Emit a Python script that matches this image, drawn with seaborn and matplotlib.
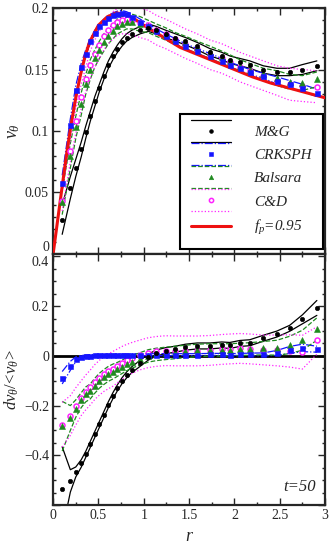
import matplotlib
matplotlib.use("Agg")
import matplotlib.pyplot as plt
import numpy as np
import pandas as pd
import seaborn as sns
from matplotlib.legend_handler import HandlerBase
from matplotlib.lines import Line2D
from matplotlib.ticker import MultipleLocator, FuncFormatter

# radial bins
r = [0.10, 0.19, 0.25, 0.31, 0.36, 0.41, 0.46, 0.51, 0.56, 0.61, 0.66, 0.71, 0.76, 0.81, 0.87, 0.96,
     1.05, 1.14, 1.24, 1.35, 1.46, 1.59, 1.73, 1.86, 1.95, 2.06, 2.17, 2.32, 2.47, 2.61, 2.75, 2.91]

# analytic curve f_p=0.95
r_fp = [0.0, 0.1, 0.15, 0.2, 0.25, 0.3, 0.35, 0.4, 0.5, 0.6, 0.7, 0.8, 0.9, 1.0, 1.2, 1.4, 1.6,
        1.8, 2.0, 2.2, 2.4, 2.6, 2.8, 3.0]
v_fp = [0.0, 0.055, 0.082, 0.106, 0.127, 0.145, 0.160, 0.172, 0.186, 0.193, 0.196, 0.195, 0.191,
        0.186, 0.177, 0.168, 0.162, 0.156, 0.150, 0.144, 0.139, 0.135, 0.131, 0.127]

# v_theta (top panel)
v_mg = [0.028, 0.054, 0.070, 0.085, 0.099, 0.112, 0.124, 0.135, 0.145, 0.154, 0.161, 0.167, 0.172,
        0.176, 0.179, 0.182, 0.184, 0.182, 0.179, 0.176, 0.173, 0.169, 0.164, 0.161, 0.158, 0.156,
        0.154, 0.150, 0.148, 0.148, 0.150, 0.153]
v_mg_sd = [0.012, 0.009, 0.007, 0.006, 0.005, 0.004, 0.004, 0.003, 0.003, 0.003, 0.003, 0.003, 0.003,
           0.003, 0.003, 0.003, 0.003, 0.003, 0.003, 0.003, 0.003, 0.003, 0.003, 0.003, 0.003, 0.003,
           0.003, 0.003, 0.003, 0.003, 0.004, 0.004]
v_crk = [0.058, 0.105, 0.133, 0.152, 0.163, 0.173, 0.180, 0.185, 0.189, 0.192, 0.194, 0.1955, 0.196,
         0.195, 0.193, 0.189, 0.185, 0.181, 0.177, 0.173, 0.169, 0.165, 0.161, 0.157, 0.154, 0.151,
         0.148, 0.145, 0.141, 0.138, 0.135, 0.131]
v_crk_sd = [0.006, 0.005, 0.004, 0.003, 0.003, 0.002, 0.002, 0.002, 0.002, 0.002, 0.002, 0.002, 0.002,
            0.002, 0.002, 0.002, 0.002, 0.002, 0.002, 0.002, 0.002, 0.002, 0.002, 0.002, 0.002, 0.002,
            0.002, 0.002, 0.003, 0.003, 0.003, 0.003]
v_bal = [0.042, 0.080, 0.103, 0.122, 0.138, 0.150, 0.159, 0.166, 0.172, 0.177, 0.181, 0.185, 0.187,
         0.189, 0.189, 0.187, 0.185, 0.182, 0.179, 0.175, 0.172, 0.168, 0.164, 0.160, 0.157, 0.153,
         0.150, 0.146, 0.143, 0.140, 0.139, 0.142]
v_bal_sd = [0.010, 0.010, 0.009, 0.009, 0.008, 0.008, 0.007, 0.007, 0.007, 0.006, 0.006, 0.006, 0.006,
            0.006, 0.006, 0.006, 0.005, 0.005, 0.005, 0.005, 0.005, 0.005, 0.005, 0.005, 0.005, 0.005,
            0.005, 0.005, 0.006, 0.006, 0.006, 0.006]
v_cd = [0.043, 0.084, 0.108, 0.128, 0.142, 0.154, 0.163, 0.170, 0.177, 0.182, 0.186, 0.189, 0.190,
        0.191, 0.190, 0.188, 0.186, 0.182, 0.179, 0.175, 0.171, 0.167, 0.162, 0.159, 0.156, 0.152,
        0.149, 0.145, 0.141, 0.138, 0.137, 0.136]
v_cd_sd = [0.008, 0.009, 0.010, 0.010, 0.010, 0.011, 0.011, 0.011, 0.011, 0.011, 0.011, 0.011, 0.011,
           0.012, 0.012, 0.012, 0.012, 0.012, 0.012, 0.012, 0.012, 0.012, 0.012, 0.012, 0.012, 0.012,
           0.012, 0.012, 0.012, 0.013, 0.013, 0.013]

# d v_theta / <v_theta> (bottom panel)
d_mg = [-0.536, -0.503, -0.467, -0.433, -0.396, -0.356, -0.316, -0.276, -0.236, -0.196, -0.160, -0.128,
        -0.100, -0.077, -0.055, -0.030, -0.005, 0.012, 0.021, 0.027, 0.035, 0.040, 0.040, 0.044, 0.042,
        0.050, 0.053, 0.071, 0.088, 0.111, 0.147, 0.193]
d_mg_sd = [0.17, 0.045, 0.02, 0.015, 0.012, 0.012, 0.012, 0.012, 0.012, 0.012, 0.012, 0.012, 0.012,
           0.012, 0.012, 0.012, 0.012, 0.012, 0.012, 0.012, 0.012, 0.012, 0.012, 0.012, 0.012, 0.012,
           0.012, 0.012, 0.012, 0.012, 0.018, 0.030]
d_crk = [-0.088, -0.040, -0.014, -0.005, -0.001, 0.001, 0.002, 0.002, 0.003, 0.003, 0.003, 0.004, 0.004,
         0.004, 0.004, 0.005, 0.005, 0.005, 0.005, 0.005, 0.005, 0.005, 0.006, 0.006, 0.005, 0.006,
         0.006, 0.006, 0.012, 0.024, 0.032, 0.027]
d_crk_sd = [0.025, 0.018, 0.01, 0.006, 0.005, 0.004, 0.004, 0.004, 0.004, 0.004, 0.004, 0.004, 0.004,
            0.004, 0.004, 0.004, 0.004, 0.004, 0.004, 0.004, 0.004, 0.004, 0.004, 0.004, 0.004, 0.004,
            0.005, 0.006, 0.010, 0.014, 0.015, 0.012]
d_bal = [-0.283, -0.250, -0.212, -0.178, -0.155, -0.143, -0.120, -0.100, -0.085, -0.072, -0.063, -0.054,
         -0.044, -0.034, -0.024, -0.012, 0.000, 0.006, 0.010, 0.014, 0.018, 0.022, 0.024, 0.024, 0.024,
         0.026, 0.028, 0.031, 0.033, 0.044, 0.063, 0.108]
d_bal_sd = [0.10, 0.05, 0.035, 0.03, 0.03, 0.03, 0.03, 0.03, 0.03, 0.03, 0.03, 0.028, 0.027, 0.026,
            0.025, 0.025, 0.025, 0.025, 0.025, 0.025, 0.025, 0.025, 0.025, 0.025, 0.025, 0.025, 0.025,
            0.027, 0.03, 0.035, 0.04, 0.045]
d_cd = [-0.277, -0.240, -0.203, -0.170, -0.147, -0.127, -0.105, -0.088, -0.073, -0.062, -0.052, -0.040,
        -0.028, -0.018, -0.008, 0.004, 0.013, 0.018, 0.021, 0.020, 0.020, 0.020, 0.022, 0.026, 0.028,
        0.030, 0.028, 0.024, 0.022, 0.020, 0.015, 0.062]
d_cd_sd = [0.09, 0.08, 0.075, 0.07, 0.07, 0.07, 0.07, 0.07, 0.07, 0.07, 0.07, 0.068, 0.066, 0.064,
           0.062, 0.06, 0.06, 0.06, 0.06, 0.06, 0.06, 0.06, 0.06, 0.06, 0.06, 0.06, 0.06, 0.06, 0.062,
           0.065, 0.068, 0.055]

labels = ["M&G", "CRKSPH", "Balsara", "C&D"]
colors = ["black", "#1515ff", "#1f8a1f", "#ff22ff"]
lstyles = ["-", "-.", "--", ":"]
markers = ["o", "s", "^", "o"]
msizes = [3.2, 3.6, 3.8, 3.6]
mfaces = ["black", "#1515ff", "#1f8a1f", "white"]

top_data = [(v_mg, v_mg_sd), (v_crk, v_crk_sd), (v_bal, v_bal_sd), (v_cd, v_cd_sd)]
bot_data = [(d_mg, d_mg_sd), (d_crk, d_crk_sd), (d_bal, d_bal_sd), (d_cd, d_cd_sd)]

sns.set_style("ticks")
plt.rcParams["font.family"] = ["Liberation Serif", "DejaVu Serif"]
plt.rcParams["mathtext.fontset"] = "custom"
plt.rcParams["mathtext.rm"] = "Liberation Serif"
plt.rcParams["mathtext.it"] = "Liberation Serif:italic"
plt.rcParams["xtick.direction"] = "in"
plt.rcParams["ytick.direction"] = "in"

fig = plt.figure(figsize=(3.32, 5.53), dpi=100)
ax1 = fig.add_axes([0.160, 0.5407, 0.819, 0.4448])
ax2 = fig.add_axes([0.160, 0.0868, 0.819, 0.4539])


def draw(ax, data):
    for i, (m, sd) in enumerate(data):
        m = np.array(m)
        sd = np.array(sd)
        for band in (m + sd, m - sd):
            sns.lineplot(x=r, y=band, ax=ax, color=colors[i], linestyle=lstyles[i], lw=0.9,
                         estimator=None, sort=False, zorder=2 + i * 0.1)
        ax.plot(r, m, ls="none", marker=markers[i], ms=msizes[i], mfc=mfaces[i],
                mec=colors[i], mew=1.1 if i == 3 else 0.4, zorder=4 - i * 0.1)


draw(ax1, top_data)
sns.lineplot(x=r_fp, y=v_fp, ax=ax1, color="#ee1111", lw=2.2, estimator=None, sort=False, zorder=3.5)
draw(ax2, bot_data)
ax2.axhline(0, color="black", lw=2, zorder=1.5)


def fmt_fn(v, p):
    if v < -0.55:
        return ""
    return ("%g" % round(v, 3)).replace("-", "\u2212")


fmt = FuncFormatter(fmt_fn)
for ax in (ax1, ax2):
    ax.set_xlim(0, 3)
    ax.xaxis.set_major_locator(MultipleLocator(0.5))
    ax.xaxis.set_minor_locator(MultipleLocator(0.25))
    ax.xaxis.set_major_formatter(fmt)
    ax.tick_params(which="both", top=True, right=True, direction="in", width=1, labelsize=10, pad=3)
    ax.tick_params(which="major", length=5)
    ax.tick_params(which="minor", length=2.5)
    for s in ax.spines.values():
        s.set_linewidth(1.6)
    ax.set_xlabel("")
    ax.set_ylabel("")

ax1.set_ylim(0, 0.2)
ax1.set_yticks([0, 0.05, 0.1, 0.15, 0.2])
ax1.yaxis.set_minor_locator(MultipleLocator(0.01))
ax1.yaxis.set_major_formatter(fmt)
ax1.tick_params(labelbottom=False)
ax2.set_ylim(-0.6, 0.41)
ax2.set_yticks([-0.6, -0.4, -0.2, 0, 0.2, 0.4])
ax2.yaxis.set_minor_locator(MultipleLocator(0.05))
ax2.yaxis.set_major_formatter(fmt)

# keep the "0" and "0.4" labels at the panel join apart
ax1.yaxis.get_major_ticks()[0].label1.set_va("bottom")
ax2.yaxis.get_major_ticks()[-1].label1.set_va("top")

ax1.set_ylabel(r"$v_\theta$", fontsize=13, labelpad=2)
ax2.set_ylabel(r"$dv_\theta/\!<\!v_\theta\!>$", fontsize=12, labelpad=2)
ax2.set_xlabel(r"$r$", fontsize=13, labelpad=4)
ax2.text(0.965, 0.04, "t=50", transform=ax2.transAxes, ha="right", va="bottom",
         fontsize=12, style="italic")


class BandHandler(HandlerBase):
    def create_artists(self, legend, h, xdescent, ydescent, width, height, fontsize, trans):
        y0 = height / 2 - ydescent
        x0, x1 = -xdescent, width - xdescent
        if h.get_marker() in (None, "None", "", " "):
            ln = Line2D([x0, x1], [y0, y0], color=h.get_color(), lw=2.2)
            ln.set_transform(trans)
            return [ln]
        dy = fontsize * 0.72
        arts = []
        for yy in (y0 + dy, y0 - dy):
            ln = Line2D([x0, x1], [yy, yy], color=h.get_color(), ls=h.get_linestyle(), lw=0.9)
            ln.set_transform(trans)
            arts.append(ln)
        mk = Line2D([(x0 + x1) / 2], [y0], ls="none", marker=h.get_marker(), ms=h.get_markersize() * 0.85,
                    mfc=h.get_markerfacecolor(), mec=h.get_markeredgecolor(), mew=h.get_markeredgewidth())
        mk.set_transform(trans)
        arts.append(mk)
        return arts


handles = []
for i in range(4):
    handles.append(Line2D([], [], color=colors[i], ls=lstyles[i], marker=markers[i], ms=msizes[i],
                          mfc=mfaces[i], mec=colors[i], mew=1.1 if i == 3 else 0.4))
handles.append(Line2D([], [], color="#ee1111", lw=2.2))
leg_labels = labels + [r"$f_p$=0.95"]
leg = ax1.legend(handles, leg_labels, handler_map={Line2D: BandHandler()}, loc="lower right",
                 bbox_to_anchor=(0.993, 0.022), borderaxespad=0, fancybox=False, framealpha=1,
                 edgecolor="black", prop={"size": 11, "style": "italic"}, handlelength=2.6,
                 handletextpad=1.5, labelspacing=0.62, borderpad=0.75)
leg.get_frame().set_linewidth(1.5)

fig.savefig("out.png", dpi=100)
